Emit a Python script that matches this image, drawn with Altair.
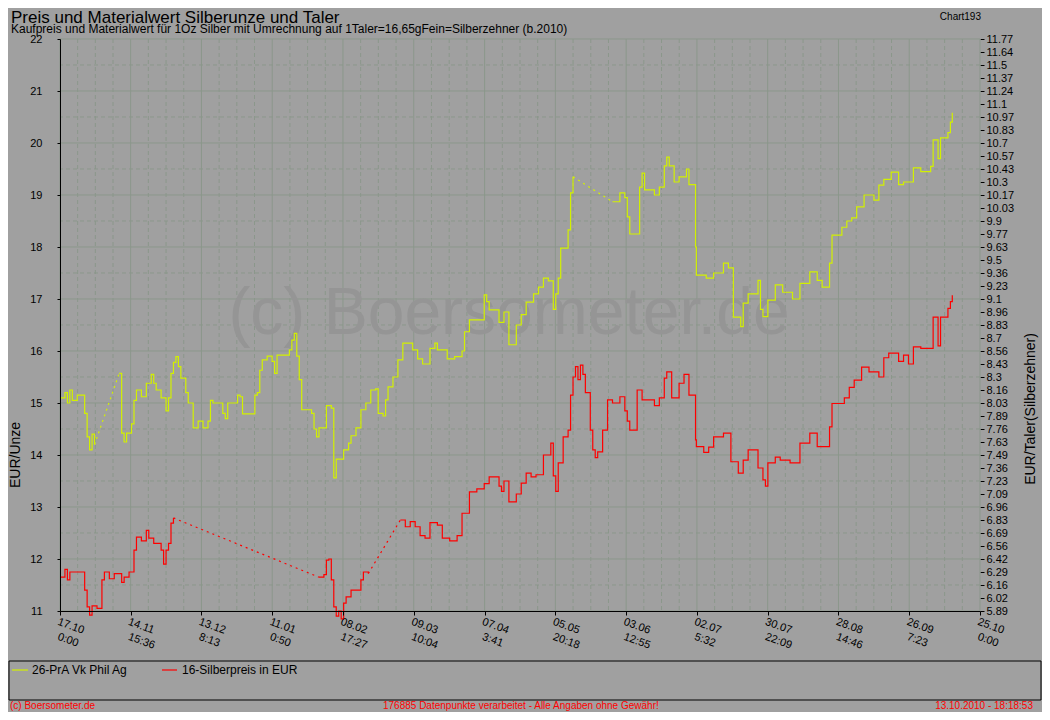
import altair as alt
import pandas as pd

FONT = "Liberation Sans"
BG = "#a0a0a0"
GRID = "#8b978b"
YELLOW = "#d2f000"
RED = "#ff0000"

TITLE = "Preis und Materialwert Silberunze und  Taler"
SUBTITLE = "Kaufpreis und Materialwert für 1Oz Silber mit Umrechnung auf 1Taler=16,65gFein=Silberzehner (b.2010)"
CHART_ID = "Chart193"
Y_TITLE_LEFT = "EUR/Unze"
Y_TITLE_RIGHT = "EUR/Taler(Silberzehner)"
WATERMARK = "(c) Boersometer.de"
FOOT_LEFT = "(c) Boersometer.de"
FOOT_CENTER = "176885 Datenpunkte verarbeitet - Alle Angaben ohne Gewähr!"
FOOT_RIGHT = "13.10.2010 - 18:18:53"

Y_NAME = "26-PrA Vk Phil Ag"
R_NAME = "16-Silberpreis in EUR"

# ---- series 1: 26-PrA Vk Phil Ag (yellow) ----
Y_DATES = [
    "2009-10-17", "2009-10-19", "2009-10-20", "2009-10-21", "2009-10-22", "2009-10-24", "2009-10-27",
    "2009-10-28", "2009-10-29", "2009-10-30", "2009-10-31",
    "2009-11-10", "2009-11-11", "2009-11-12", "2009-11-13", "2009-11-15", "2009-11-16", "2009-11-17",
    "2009-11-19", "2009-11-21", "2009-11-23", "2009-11-24", "2009-11-25", "2009-11-27", "2009-11-29",
    "2009-11-30",
    "2009-12-01", "2009-12-02", "2009-12-03", "2009-12-04", "2009-12-05", "2009-12-07", "2009-12-08",
    "2009-12-10", "2009-12-12", "2009-12-14", "2009-12-16", "2009-12-17", "2009-12-18", "2009-12-22",
    "2009-12-23", "2009-12-24", "2009-12-28", "2009-12-29", "2009-12-30",
    "2010-01-04", "2010-01-05", "2010-01-06", "2010-01-07", "2010-01-09", "2010-01-11", "2010-01-12",
    "2010-01-13", "2010-01-18", "2010-01-19", "2010-01-20", "2010-01-21", "2010-01-22", "2010-01-23",
    "2010-01-27", "2010-01-28", "2010-01-29", "2010-01-30",
    "2010-02-02", "2010-02-04", "2010-02-05", "2010-02-06", "2010-02-09", "2010-02-11", "2010-02-12",
    "2010-02-14", "2010-02-16", "2010-02-18", "2010-02-20", "2010-02-22", "2010-02-23", "2010-02-25",
    "2010-02-26", "2010-02-27",
    "2010-03-01", "2010-03-03", "2010-03-05", "2010-03-09", "2010-03-11", "2010-03-13", "2010-03-16",
    "2010-03-18", "2010-03-19", "2010-03-23", "2010-03-26", "2010-03-29", "2010-03-30",
    "2010-04-01", "2010-04-07", "2010-04-08", "2010-04-09", "2010-04-13", "2010-04-15", "2010-04-17",
    "2010-04-20", "2010-04-22", "2010-04-24", "2010-04-27", "2010-04-29",
    "2010-05-01", "2010-05-03", "2010-05-05", "2010-05-06", "2010-05-07", "2010-05-08", "2010-05-11",
    "2010-05-12", "2010-05-13", "2010-05-29",
    "2010-06-01", "2010-06-03", "2010-06-04", "2010-06-05", "2010-06-09", "2010-06-10", "2010-06-11",
    "2010-06-15", "2010-06-17", "2010-06-19", "2010-06-20", "2010-06-21", "2010-06-23", "2010-06-25",
    "2010-06-28", "2010-06-29",
    "2010-07-01 16:00", "2010-07-02", "2010-07-06", "2010-07-09", "2010-07-13", "2010-07-15", "2010-07-17",
    "2010-07-20", "2010-07-21", "2010-07-23", "2010-07-27", "2010-07-28", "2010-07-29", "2010-07-31",
    "2010-08-03", "2010-08-06", "2010-08-10", "2010-08-13", "2010-08-17", "2010-08-20", "2010-08-22",
    "2010-08-25", "2010-08-26", "2010-08-30",
    "2010-09-01", "2010-09-03", "2010-09-05", "2010-09-08", "2010-09-12", "2010-09-14", "2010-09-16",
    "2010-09-19", "2010-09-22", "2010-09-24", "2010-09-28",
    "2010-10-01", "2010-10-05", "2010-10-06", "2010-10-08", "2010-10-09", "2010-10-12", "2010-10-13",
    "2010-10-13 18:18",
]
Y_VALUES = [
    15.10, 15.20, 15.00, 15.25, 15.05, 15.15, 14.80, 14.35, 14.10, 14.40, 14.20,
    15.57, 14.42, 14.25, 14.42, 14.60, 15.05, 15.25, 15.12, 15.38, 15.55, 15.38, 15.25, 15.10, 14.85, 15.10,
    15.57, 15.78, 15.89, 15.70, 15.48, 15.20, 15.00, 14.52, 14.65, 14.52, 14.65, 15.05, 15.00, 14.80,
    14.70, 15.00, 15.15, 15.12, 14.79,
    15.15, 15.20, 15.63, 15.83, 15.90, 15.80, 15.57, 15.92, 16.02, 16.21, 16.34, 15.90, 15.45, 14.87,
    14.80, 14.50, 14.35, 14.52,
    14.95, 14.90, 13.56, 13.92, 14.10, 14.23, 14.37, 14.52, 14.87, 15.00, 15.25, 15.27, 14.80, 14.75,
    15.06, 15.31,
    15.50, 15.83, 16.15, 16.02, 15.85, 15.75, 16.05, 16.15, 16.02, 15.85, 15.89, 16.00, 16.37,
    16.60, 17.08, 16.95, 16.79, 16.55, 16.75, 16.12, 16.50, 16.70, 16.94, 17.10, 17.23,
    17.40, 17.35, 16.80, 17.10, 17.40, 17.98, 18.33, 19.04, 19.35, 18.87,
    19.04, 18.95, 18.58, 18.25, 19.15, 19.42, 19.10, 19.00, 19.15, 19.56, 19.73, 19.56, 19.25, 19.35,
    19.50, 19.20,
    18.00, 17.46, 17.40, 17.50, 17.69, 17.60, 16.65, 16.47, 16.92, 17.10, 17.36, 16.80, 16.66, 16.98,
    17.27, 17.13, 17.00, 17.30, 17.52, 17.36, 17.23, 17.69, 18.23, 18.38,
    18.50, 18.56, 18.77, 19.00, 18.90, 19.19, 19.30, 19.44, 19.20, 19.25, 19.52,
    19.45, 19.55, 20.06, 19.70, 20.10, 20.20, 20.40, 20.58,
]
Y_GAP_STARTS = ["2009-10-31", "2010-05-13"]

# ---- series 2: 16-Silberpreis in EUR (red) ----
R_DATES = [
    "2009-10-17", "2009-10-19", "2009-10-20", "2009-10-21", "2009-10-27", "2009-10-28", "2009-10-29",
    "2009-10-30",
    "2009-11-01", "2009-11-03", "2009-11-04", "2009-11-06", "2009-11-08", "2009-11-11", "2009-11-12",
    "2009-11-14", "2009-11-16", "2009-11-17", "2009-11-19", "2009-11-21", "2009-11-22", "2009-11-24",
    "2009-11-27", "2009-11-28", "2009-11-29", "2009-11-30",
    "2009-12-01", "2009-12-02",
    "2010-01-30",
    "2010-02-01", "2010-02-02", "2010-02-03", "2010-02-04", "2010-02-05", "2010-02-06", "2010-02-07",
    "2010-02-08", "2010-02-09", "2010-02-10", "2010-02-12", "2010-02-16", "2010-02-17", "2010-02-19",
    "2010-03-04", "2010-03-06", "2010-03-08", "2010-03-10", "2010-03-12", "2010-03-14", "2010-03-16",
    "2010-03-19", "2010-03-21", "2010-03-24", "2010-03-27", "2010-03-29",
    "2010-04-01", "2010-04-04", "2010-04-07", "2010-04-09", "2010-04-13", "2010-04-14", "2010-04-15",
    "2010-04-17", "2010-04-20", "2010-04-22", "2010-04-24", "2010-04-26", "2010-04-28",
    "2010-05-01", "2010-05-04", "2010-05-05", "2010-05-06", "2010-05-07", "2010-05-09", "2010-05-11",
    "2010-05-12", "2010-05-13", "2010-05-14", "2010-05-15", "2010-05-16", "2010-05-17", "2010-05-18",
    "2010-05-20", "2010-05-21", "2010-05-22", "2010-05-23", "2010-05-25", "2010-05-27", "2010-05-29",
    "2010-06-01", "2010-06-03", "2010-06-04", "2010-06-05", "2010-06-08", "2010-06-10", "2010-06-15",
    "2010-06-17", "2010-06-19", "2010-06-20", "2010-06-22", "2010-06-25", "2010-06-27", "2010-06-29",
    "2010-07-01 16:00", "2010-07-02", "2010-07-05", "2010-07-07", "2010-07-09", "2010-07-13", "2010-07-16",
    "2010-07-19", "2010-07-21", "2010-07-23", "2010-07-27", "2010-07-29", "2010-07-30", "2010-07-31",
    "2010-08-03", "2010-08-05", "2010-08-09", "2010-08-13", "2010-08-17", "2010-08-20", "2010-08-25",
    "2010-08-26", "2010-08-31",
    "2010-09-02", "2010-09-04", "2010-09-07", "2010-09-10", "2010-09-14", "2010-09-16", "2010-09-18",
    "2010-09-22", "2010-09-24", "2010-09-26", "2010-09-28",
    "2010-10-01", "2010-10-06", "2010-10-08", "2010-10-09", "2010-10-12", "2010-10-13", "2010-10-13 18:18",
]
R_VALUES = [
    11.65, 11.80, 11.60, 11.75, 11.40, 11.08, 10.92, 11.10,
    11.05, 11.60, 11.75, 11.62, 11.72, 11.55, 11.65, 11.75, 12.17, 12.42, 12.35, 12.55, 12.40, 12.30,
    12.17, 11.90, 12.17, 12.30,
    12.69, 12.79,
    11.65,
    11.70, 11.98, 12.00, 11.60, 11.08, 10.90, 11.00, 10.85, 11.15, 11.27, 11.40, 11.60, 11.75, 11.72,
    12.75, 12.62, 12.72, 12.62, 12.45, 12.40, 12.70, 12.65, 12.40, 12.35, 12.45, 12.88,
    13.29, 13.35, 13.45, 13.58, 13.40, 13.30, 13.50, 13.10, 13.25, 13.46, 13.65, 13.58, 13.62,
    14.00, 14.23, 13.60, 13.30, 13.85, 14.35, 14.48, 15.15, 15.50, 15.70, 15.45, 15.73, 15.55, 15.20,
    14.48, 14.10, 13.95, 14.06, 14.48, 15.06, 15.00,
    15.12, 14.85, 14.65, 14.48, 15.25, 15.06, 14.95, 15.10, 15.48, 15.60, 15.10, 15.38, 15.55, 15.15,
    14.29, 14.16, 14.05, 14.15, 14.35, 14.42, 13.87, 13.65, 13.90, 14.10, 13.75, 13.52, 13.40, 13.85,
    13.96, 13.90, 13.85, 14.23, 14.42, 14.16, 14.54, 14.99, 15.10,
    15.30, 15.44, 15.69, 15.60, 15.50, 15.87, 15.96, 15.80, 15.92, 15.75, 16.08,
    16.05, 16.65, 16.10, 16.65, 16.82, 16.95, 17.07,
]
R_GAP_STARTS = ["2009-12-02", "2010-02-19"]

# ---- axes ----
X_TICKS = [
    "2009-10-17 00:00", "2009-11-14 15:36", "2009-12-13 08:13", "2010-01-11 00:50", "2010-02-08 17:27",
    "2010-03-09 10:04", "2010-04-07 03:41", "2010-05-05 20:18", "2010-06-03 12:55", "2010-07-02 05:32",
    "2010-07-30 22:09", "2010-08-28 14:46", "2010-09-26 07:23", "2010-10-25 00:00",
]
X_TICK_DAY = ["17.10", "14.11", "13.12", "11.01", "08.02", "09.03", "07.04", "05.05", "03.06", "02.07",
              "30.07", "28.08", "26.09", "25.10"]
X_TICK_TIME = ["0:00", "15:36", "8:13", "0:50", "17:27", "10:04", "3:41", "20:18", "12:55", "5:32",
               "22:09", "14:46", "7:23", "0:00"]
Y_TICKS = [11, 12, 13, 14, 15, 16, 17, 18, 19, 20, 21, 22]
Y_MINOR = [11.5, 12.5, 13.5, 14.5, 15.5, 16.5, 17.5, 18.5, 19.5, 20.5, 21.5]
RIGHT_LABELS = [
    "5.89", "6.02", "6.16", "6.29", "6.42", "6.56", "6.69", "6.83", "6.96", "7.09", "7.23", "7.36",
    "7.49", "7.63", "7.76", "7.89", "8.03", "8.16", "8.3", "8.43", "8.56", "8.7", "8.83", "8.96",
    "9.1", "9.23", "9.36", "9.5", "9.63", "9.77", "9.9", "10.03", "10.17", "10.3", "10.43", "10.57",
    "10.7", "10.83", "10.97", "11.1", "11.24", "11.37", "11.5", "11.64", "11.77",
]
RIGHT_VALUES = [11 + 0.25 * i for i in range(len(RIGHT_LABELS))]


def parse(dates):
    return pd.to_datetime(pd.Series(dates), format="mixed")


def series_frames(dates, values, gaps, name):
    ts = parse(dates)
    gap_ts = list(parse(gaps))
    seg = [sum(1 for g in gap_ts if g < t) for t in ts]
    solid = pd.DataFrame({"date": ts, "value": values, "series": name,
                          "part": [f"{name}|{s}" for s in seg]})
    rows = []
    for k, g in enumerate(gap_ts):
        i = int(ts[ts == g].index[0])
        for j in (i, i + 1):
            rows.append({"date": ts[j], "value": values[j], "series": name, "part": f"{name}|gap{k}"})
    return solid, pd.DataFrame(rows)


ys, yg = series_frames(Y_DATES, Y_VALUES, Y_GAP_STARTS, Y_NAME)
rs, rg = series_frames(R_DATES, R_VALUES, R_GAP_STARTS, R_NAME)
solid_df = pd.concat([ys, rs], ignore_index=True)
gap_df = pd.concat([yg, rg], ignore_index=True)

tick_ts = list(parse(X_TICKS))


def dt(t):
    return alt.DateTime(year=t.year, month=t.month, date=t.day, hours=t.hour, minutes=t.minute)


tick_dt = [dt(t) for t in tick_ts]
minor_x = []
for a, b in zip(tick_ts[:-1], tick_ts[1:]):
    for q in (1, 2, 3):
        minor_x.append(a + (b - a) * q / 4)

x_scale = alt.Scale(domain=[tick_dt[0], tick_dt[-1]])
y_scale = alt.Scale(domain=[Y_TICKS[0], Y_TICKS[-1]], nice=False, zero=False)
color_scale = alt.Scale(domain=[Y_NAME, R_NAME], range=[YELLOW, RED])

# ---- grid ----
grid_minor_y = alt.Chart(pd.DataFrame({"v": Y_MINOR})).mark_rule(
    color=GRID, strokeDash=[4, 3], strokeWidth=1).encode(y=alt.Y("v:Q", scale=y_scale, axis=None))
grid_minor_x = alt.Chart(pd.DataFrame({"t": minor_x})).mark_rule(
    color=GRID, strokeDash=[4, 3], strokeWidth=1).encode(x=alt.X("t:T", scale=x_scale, axis=None))
grid_major_y = alt.Chart(pd.DataFrame({"v": Y_TICKS})).mark_rule(
    color=GRID, strokeWidth=1).encode(y=alt.Y("v:Q", scale=y_scale, axis=None))
grid_major_x = alt.Chart(pd.DataFrame({"t": tick_ts})).mark_rule(
    color=GRID, strokeWidth=1).encode(x=alt.X("t:T", scale=x_scale, axis=None))


def text_layer(text, x, y, size, color="#000000", align="left", angle=0, baseline="alphabetic"):
    return alt.Chart(pd.DataFrame({"t": [text]})).mark_text(
        font=FONT, fontSize=size, color=color, align=align, baseline=baseline, angle=angle
    ).encode(text="t:N", x=alt.value(x), y=alt.value(y))


watermark = text_layer(WATERMARK, 449, 295, 66, color="#959595", align="center")

# ---- right axis (Taler scale) ----
label_expr = "[" + ",".join(f"'{s}'" for s in RIGHT_LABELS) + "][round((datum.value - 11) * 4)]"
right_axis = alt.Chart(pd.DataFrame({"v": RIGHT_VALUES})).mark_rule(strokeOpacity=0).encode(
    y=alt.Y("v:Q", scale=y_scale, axis=alt.Axis(
        orient="right", values=RIGHT_VALUES, labelExpr=label_expr, title=None, grid=False,
        domain=False, tickColor="#000000", tickSize=4, labelPadding=2, labelFontSize=11,
        labelColor="#000000", labelFont=FONT, labelOverlap=False, labelFlush=False)))

# ---- data lines ----
lines = alt.Chart(solid_df).mark_line(interpolate="step-after", strokeWidth=1.2).encode(
    x=alt.X("date:T", scale=x_scale, axis=alt.Axis(
        values=tick_dt, labels=False, title=None, grid=False, domainColor="#000000",
        tickColor="#000000", tickSize=4, zindex=1)),
    y=alt.Y("value:Q", scale=y_scale, axis=alt.Axis(
        values=Y_TICKS, title=None, grid=False, domainColor="#000000", tickColor="#000000",
        tickSize=3, labelPadding=15, labelFontSize=11, labelColor="#000000", labelFont=FONT,
        labelOverlap=False, labelFlush=False, zindex=1)),
    color=alt.Color("series:N", scale=color_scale, legend=None),
    detail="part:N",
)
gaps = alt.Chart(gap_df).mark_line(strokeWidth=1.2, strokeDash=[2, 4]).encode(
    x=alt.X("date:T", scale=x_scale, axis=None),
    y=alt.Y("value:Q", scale=y_scale, axis=None),
    color=alt.Color("series:N", scale=color_scale, legend=None),
    detail="part:N",
)

# ---- x tick labels (two lines, rotated) ----
tick_df = pd.DataFrame({"t": tick_ts, "day": X_TICK_DAY, "time": X_TICK_TIME})
xlab1 = alt.Chart(tick_df).mark_text(font=FONT, fontSize=11, color="#000000", align="left",
                                     baseline="top", angle=20).encode(
    x=alt.X("t:T", scale=x_scale, axis=None), y=alt.value(577), text="day:N")
xlab2 = alt.Chart(tick_df).mark_text(font=FONT, fontSize=11, color="#000000", align="left",
                                     baseline="top", angle=20).encode(
    x=alt.X("t:T", scale=x_scale, axis=None), y=alt.value(592), text="time:N")

# ---- titles ----
title = text_layer(TITLE, -49, -16, 17)
subtitle = text_layer(SUBTITLE, -49, -6.5, 12)
chart_id = text_layer(CHART_ID, 921, -19, 10, align="right")
ytitle_l = text_layer(Y_TITLE_LEFT, -44, 416, 14, align="center", angle=270, baseline="middle")
ytitle_r = text_layer(Y_TITLE_RIGHT, 971, 370, 14, align="center", angle=270, baseline="middle")

# ---- legend box ----
legend_box = alt.Chart(pd.DataFrame({"k": [0]})).mark_rect(
    fillOpacity=0, stroke="#000000", strokeWidth=1).encode(
    x=alt.value(-51), x2=alt.value(981), y=alt.value(622), y2=alt.value(661))
leg_df = pd.DataFrame({"series": [Y_NAME, R_NAME], "x0": [-48, 102], "x1": [-32, 117]})
leg_lines = alt.layer(*[
    alt.Chart(pd.DataFrame({"series": [s]})).mark_rule(strokeWidth=1.2).encode(
        x=alt.value(a), x2=alt.value(b), y=alt.value(631),
        color=alt.Color("series:N", scale=color_scale, legend=None))
    for s, a, b in zip(leg_df["series"], leg_df["x0"], leg_df["x1"])
])
leg_t1 = text_layer(Y_NAME, -28, 635, 12)
leg_t2 = text_layer(R_NAME, 122, 635, 12)

# ---- footer ----
foot_l = text_layer(FOOT_LEFT, -50, 670, 10, color=RED)
foot_c = text_layer(FOOT_CENTER, 323, 670, 10, color=RED)
foot_r = text_layer(FOOT_RIGHT, 973, 670, 10, color=RED, align="right")

chart = alt.layer(
    grid_minor_y, grid_minor_x, grid_major_y, grid_major_x, watermark, right_axis,
    lines, gaps, xlab1, xlab2, title, subtitle, chart_id, ytitle_l, ytitle_r,
    legend_box, leg_lines, leg_t1, leg_t2, foot_l, foot_c, foot_r,
).resolve_axis(x="independent", y="independent").properties(
    width=920, height=572,
    padding={"left": 52, "top": 31, "right": 62, "bottom": 101},
    autosize=alt.AutoSizeParams(type="none"),
    background=BG,
).configure_view(strokeWidth=0)

chart.save("out.html", embed_options={"renderer": "svg", "actions": False})
